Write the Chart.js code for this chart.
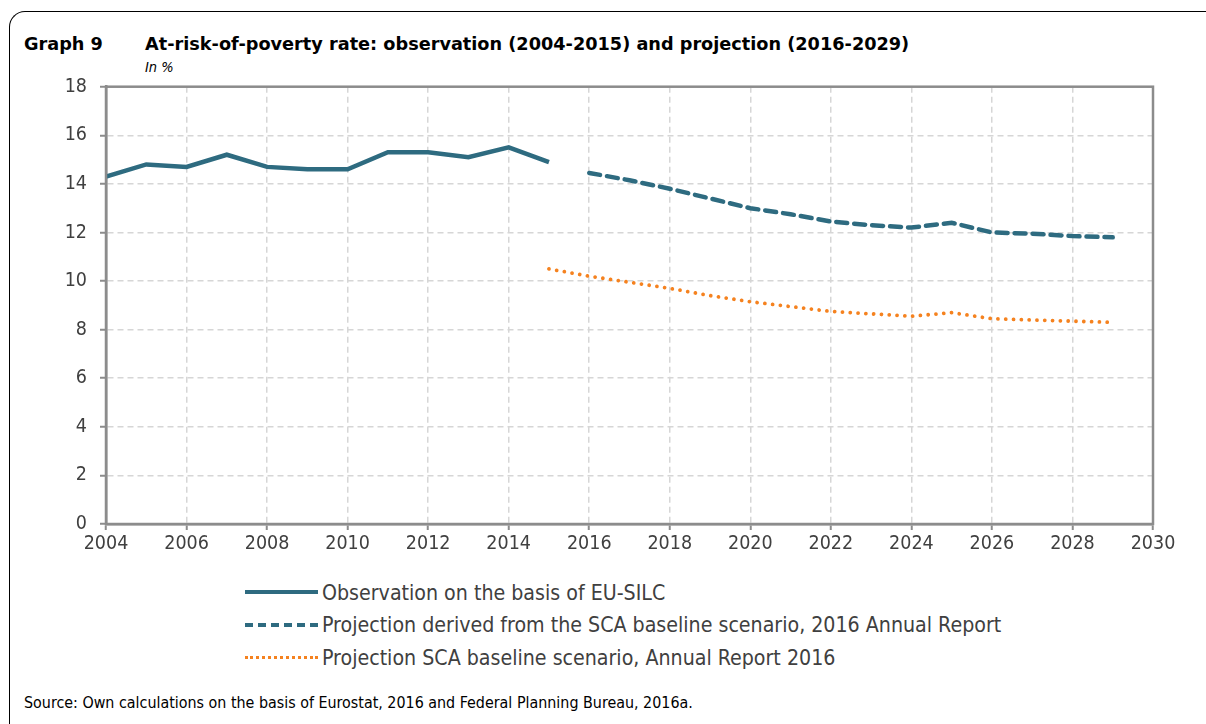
<!DOCTYPE html>
<html lang="en">
<head>
    <meta charset="UTF-8">
    <title>At-risk-of-poverty rate</title>
    <script src="https://cdn.jsdelivr.net/npm/chart.js@4.4.0/dist/chart.umd.min.js"></script>
    <style>
        body { margin: 0; width: 1206px; height: 724px; background: #fff; position: relative; overflow: hidden; font-family: "DejaVu Sans Condensed", "DejaVu Sans", sans-serif; }
        .frame { position: absolute; left: 9px; top: 11px; width: 1230px; height: 760px; border-top: 1.5px solid #000; border-left: 1.5px solid #000; border-top-left-radius: 16px; }
        .title { position: absolute; top: 34px; font-family: "DejaVu Sans", sans-serif; font-weight: bold; font-size: 17.7px; color: #000; }
        .unit { position: absolute; left: 145px; top: 59px; font-style: italic; font-size: 14.5px; color: #000; }
        #wrap { position: absolute; left: 0; top: 62px; }
        .legend { position: absolute; left: 245px; font-size: 21.2px; color: #404040; }
        .legend div { height: 32.5px; display: flex; align-items: center; }
        .legend span.smp { display: inline-block; width: 73px; margin-right: 4px; }
        .source { position: absolute; left: 24px; top: 693px; font-size: 15.9px; color: #000; }
    </style>
</head>
<body>
    <div class="frame"></div>
    <div class="title" style="left:24px">Graph 9</div>
    <div class="title" style="left:145px">At-risk-of-poverty rate: observation (2004-2015) and projection (2016-2029)</div>
    <div class="unit">In %</div>
    <div id="wrap"><canvas id="chart" width="1206" height="508"></canvas></div>

    <!-- Legend -->
    <div class="legend" style="top:576px">
        <div><span class="smp" style="border-top:4px solid #2e6b80"></span>Observation on the basis of EU-SILC</div>
        <div><span class="smp" style="border-top:4px dashed #2e6b80"></span>Projection derived from the SCA baseline scenario, 2016 Annual Report</div>
        <div><span class="smp" style="border-top:3.5px dotted #f5821f"></span>Projection SCA baseline scenario, Annual Report 2016</div>
    </div>

    <div class="source">Source: Own calculations on the basis of Eurostat, 2016 and Federal Planning Bureau, 2016a.</div>

    <script>
        // Data
        const obsYears = [2004, 2005, 2006, 2007, 2008, 2009, 2010, 2011, 2012, 2013, 2014, 2015];
        const observation = [14.3, 14.8, 14.7, 15.2, 14.7, 14.6, 14.6, 15.3, 15.3, 15.1, 15.5, 14.9];

        const projYears = [2016, 2017, 2018, 2019, 2020, 2021, 2022, 2023, 2024, 2025, 2026, 2027, 2028, 2029];
        const projDerived = [14.45, 14.15, 13.8, 13.4, 13.0, 12.75, 12.45, 12.3, 12.2, 12.4, 12.0, 11.95, 11.85, 11.8];

        const scaYears = [2015, 2016, 2017, 2018, 2019, 2020, 2021, 2022, 2023, 2024, 2025, 2026, 2027, 2028, 2029];
        const scaBaseline = [10.5, 10.2, 9.95, 9.7, 9.4, 9.15, 8.95, 8.75, 8.65, 8.55, 8.7, 8.45, 8.4, 8.35, 8.3];

        const legendLabels = [
            'Observation on the basis of EU-SILC',
            'Projection derived from the SCA baseline scenario, 2016 Annual Report',
            'Projection SCA baseline scenario, Annual Report 2016'
        ];

        const toPoints = (xs, ys) => xs.map((x, i) => ({ x: x, y: ys[i] }));

        const teal = '#2e6b80';
        const orange = '#f5821f';
        const axisGray = '#8c8c8c';
        const gridGray = '#d6d6d6';
        const tickFont = { family: '"DejaVu Sans Condensed", "DejaVu Sans", sans-serif', size: 19.5 };

        // plot frame on top and right
        const frameBox = {
            id: 'frameBox',
            afterDraw(chart) {
                const a = chart.chartArea, ctx = chart.ctx;
                ctx.save();
                ctx.strokeStyle = axisGray;
                ctx.lineWidth = 2.5;
                ctx.strokeRect(a.left, a.top, a.right - a.left, a.bottom - a.top);
                ctx.restore();
            }
        };

        new Chart(document.getElementById('chart'), {
            type: 'line',
            data: {
                datasets: [{
                    label: legendLabels[0],
                    data: toPoints(obsYears, observation),
                    borderColor: teal,
                    borderWidth: 4.5,
                    pointRadius: 0,
                    tension: 0
                }, {
                    label: legendLabels[1],
                    data: toPoints(projYears, projDerived),
                    borderColor: teal,
                    borderWidth: 4.5,
                    borderDash: [11, 7],
                    borderCapStyle: 'round',
                    pointRadius: 0,
                    tension: 0
                }, {
                    label: legendLabels[2],
                    data: toPoints(scaYears, scaBaseline),
                    borderColor: orange,
                    borderWidth: 3.8,
                    borderDash: [0.01, 7.8],
                    borderCapStyle: 'round',
                    pointRadius: 0,
                    tension: 0
                }]
            },
            options: {
                responsive: false,
                animation: false,
                devicePixelRatio: 1,
                layout: { padding: { top: 0, right: 53, left: 0, bottom: 0 } },
                plugins: {
                    legend: { display: false },
                    tooltip: { enabled: false }
                },
                scales: {
                    x: {
                        type: 'linear',
                        min: 2004,
                        max: 2030,
                        afterFit(scale) { scale.height = 46; },
                        ticks: {
                            stepSize: 2,
                            color: '#404040',
                            font: tickFont,
                            padding: 2,
                            maxRotation: 0,
                            callback: v => String(v)
                        },
                        grid: { color: gridGray, lineWidth: 1.5, tickLength: 6, tickColor: axisGray, tickWidth: 2 },
                        border: { color: axisGray, width: 2.5, dash: [6, 4] }
                    },
                    y: {
                        min: 0,
                        max: 18,
                        afterFit(scale) { scale.width = 106; },
                        ticks: {
                            stepSize: 2,
                            color: '#404040',
                            font: tickFont,
                            padding: 13
                        },
                        grid: { color: gridGray, lineWidth: 1.5, tickLength: 6, tickColor: axisGray, tickWidth: 2 },
                        border: { color: axisGray, width: 2.5, dash: [6, 4] }
                    }
                }
            },
            plugins: [frameBox]
        });
    </script>
</body>
</html>
